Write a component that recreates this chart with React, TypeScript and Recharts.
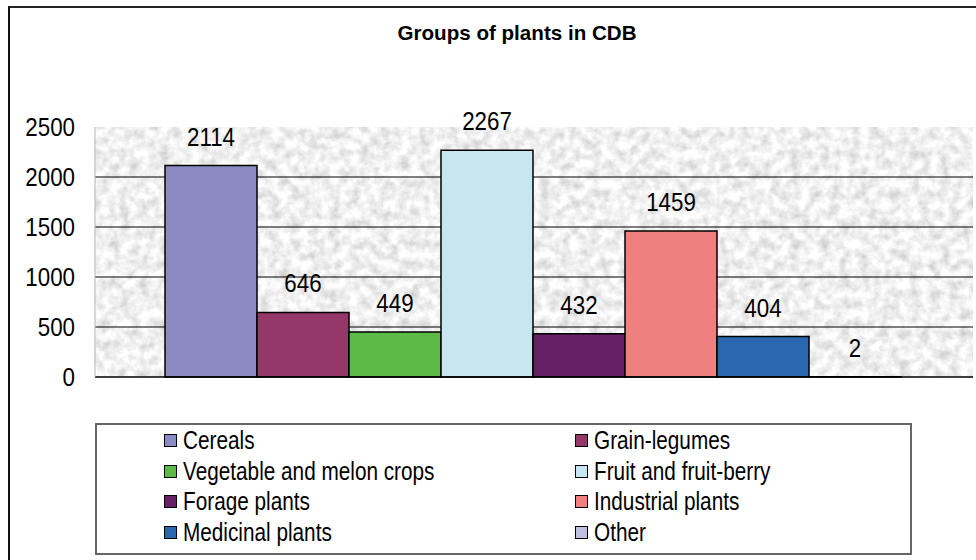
import React from "react";
import { Bar, BarChart, CartesianGrid, LabelList, Legend, XAxis, YAxis } from "recharts";

const groups = [
  "Cereals",
  "Grain-legumes",
  "Vegetable and melon crops",
  "Fruit and fruit-berry",
  "Forage plants",
  "Industrial plants",
  "Medicinal plants",
  "Other",
];
const counts = [2114, 646, 449, 2267, 432, 1459, 404, 2];
const yTicks = [0, 500, 1000, 1500, 2000, 2500];
const gridValues = [500, 1000, 1500, 2000];
const edgeTicks = [0, 1];

const colors = ["#8b8bc3", "#953769", "#5cba46", "#c6e7ef", "#662166", "#f08080", "#2b66b1", "#c0c0e0"];

// no narrow font installed, so Liberation Sans is squeezed horizontally instead
const sans = "'Liberation Sans', Arial, sans-serif";
const squeeze = 0.86;

const row: Record<string, string | number> = { name: "Groups of plants" };
groups.forEach((g, i) => {
  row[g] = counts[i];
});
const data = [row];

function YTick(props: any) {
  const { x, y, payload } = props;
  return (
    <text
      transform={`translate(${x},${y}) scale(${squeeze},1)`}
      textAnchor="end"
      dy="0.355em"
      fill="#000"
      fontSize={26}
      fontFamily={sans}
    >
      {payload.value}
    </text>
  );
}

function BarValue(props: any) {
  const { x, y, width, value } = props;
  return (
    <text
      transform={`translate(${Number(x) + Number(width) / 2},${Number(y) - 20}) scale(${squeeze},1)`}
      textAnchor="middle"
      fill="#000"
      fontSize={26}
      fontFamily={sans}
    >
      {value}
    </text>
  );
}

function LegendBox() {
  return (
    <div
      style={{
        position: "relative",
        width: 817,
        height: 132,
        boxSizing: "border-box",
        border: "2px solid #666",
        background: "#fff",
        fontFamily: sans,
        fontSize: 25,
        color: "#000",
      }}
    >
      {groups.map((g, i) => (
        <div
          key={g}
          style={{
            position: "absolute",
            left: i % 2 ? 478 : 67,
            top: Math.floor(i / 2) * 30.7,
            height: 30.7,
            display: "flex",
            alignItems: "center",
            whiteSpace: "nowrap",
          }}
        >
          <span
            style={{
              display: "inline-block",
              width: 13,
              height: 13,
              boxSizing: "border-box",
              border: "1.5px solid #000",
              background: colors[i],
              marginRight: 6,
            }}
          />
          <span style={{ display: "inline-block", transform: "scaleX(0.83)", transformOrigin: "left center" }}>{g}</span>
        </div>
      ))}
    </div>
  );
}

export default function App() {
  return (
    <div style={{ position: "absolute", left: 0, top: 0, width: 976, height: 560, background: "#fff", overflow: "hidden" }}>
      <div
        style={{
          position: "absolute",
          left: 8,
          top: 6,
          width: 1000,
          height: 600,
          borderTop: "2px solid #222",
          borderLeft: "2px solid #111",
        }}
      />
      <div
        style={{
          position: "absolute",
          left: 317,
          top: 23,
          width: 400,
          textAlign: "center",
          fontFamily: sans,
          fontWeight: "bold",
          fontSize: 20.6,
          lineHeight: "20px",
        }}
      >
        Groups of plants in CDB
      </div>
      <BarChart
        width={976}
        height={560}
        data={data}
        margin={{ top: 127, right: 3, bottom: 5, left: 0 }}
        barGap={0}
        barCategoryGap={70}
        style={{ position: "absolute", left: 0, top: 0 }}
      >
        <defs>
          <filter id="graniteNoise" x="0" y="0" width="100%" height="100%">
            <feTurbulence type="fractalNoise" baseFrequency="0.1" numOctaves="4" seed="5" />
            <feColorMatrix
              type="matrix"
              values="0.65 0 0 0 0.55  0.65 0 0 0 0.55  0.65 0 0 0 0.55  0 0 0 0 1"
            />
          </filter>
          <pattern id="granite" patternUnits="userSpaceOnUse" width="1000" height="500">
            <rect width="1000" height="500" filter="url(#graniteNoise)" />
          </pattern>
        </defs>
        <CartesianGrid
          vertical={false}
          horizontalValues={gridValues}
          stroke="#000"
          strokeWidth={1}
          fill="url(#granite)"
          fillOpacity={1}
        />
        <XAxis
          xAxisId="edges"
          type="number"
          domain={[0, 1]}
          ticks={edgeTicks}
          height={0}
          tick={false}
          tickSize={7}
          tickLine={{ stroke: "#666", strokeWidth: 1.5 }}
          axisLine={false}
        />
        <XAxis dataKey="name" height={46} tick={false} tickLine={false} axisLine={{ stroke: "#000", strokeWidth: 1.5 }} />
        <YAxis
          width={95}
          domain={[0, 2500]}
          ticks={yTicks}
          interval={0}
          tickLine={false}
          tickSize={0}
          tickMargin={20}
          axisLine={{ stroke: "#b5b5b5" }}
          tick={<YTick />}
        />
        <Legend verticalAlign="bottom" wrapperStyle={{ left: 95, width: 817 }} content={() => <LegendBox />} />
        {groups.map((g, i) => (
          <Bar key={g} dataKey={g} fill={colors[i]} stroke="#000" strokeWidth={1.5} isAnimationActive={false}>
            <LabelList dataKey={g} content={<BarValue />} />
          </Bar>
        ))}
      </BarChart>
    </div>
  );
}
